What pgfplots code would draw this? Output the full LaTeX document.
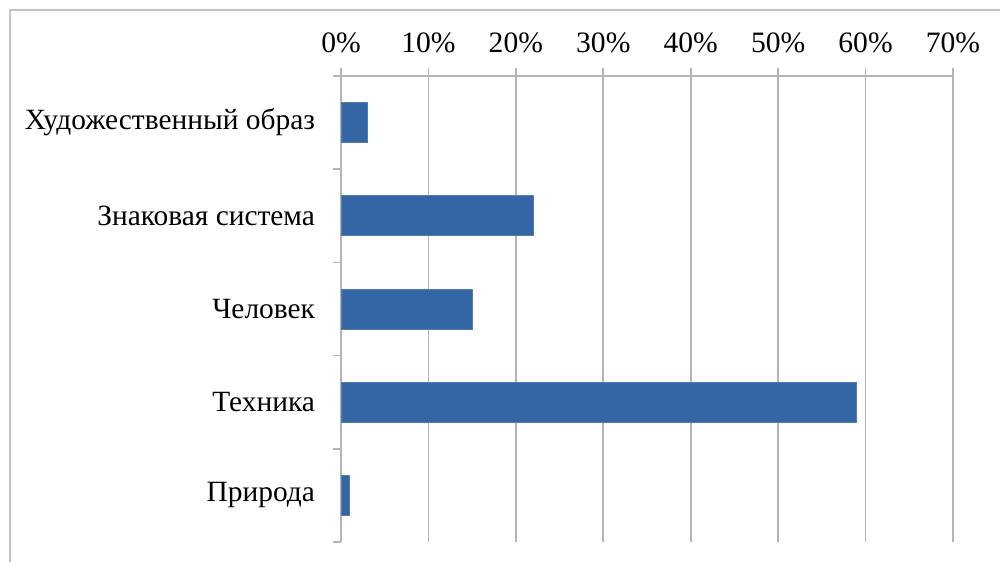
\documentclass[border=0pt]{standalone}
\usepackage{pgfplots}
\pgfplotsset{compat=1.18}
\usepackage{fontspec}
\setmainfont{Liberation Serif}
\definecolor{barblue}{RGB}{52,101,165}
\definecolor{gridgray}{RGB}{180,180,180}
\definecolor{framegray}{RGB}{195,195,195}
\begin{document}
\begin{tikzpicture}[x=1pt,y=1pt]
\path[use as bounding box] (0,0) rectangle (500,281);
\draw[framegray, line width=0.8pt] (5,0) -- (5,276) -- (500,276);
\begin{axis}[
  at={(170.5pt,10pt)}, anchor=south west,
  scale only axis, width=306pt, height=233pt,
  xbar, bar width=20pt, bar shift=0pt,
  xmin=0, xmax=70, ymin=-0.5, ymax=4.5,
  axis x line*=top, axis y line*=left,
  axis line style={gridgray, line width=0.8pt},
  xtick={0,10,...,70},
  xticklabel={\pgfmathprintnumber{\tick}\%},
  /pgf/number format/assume math mode=true,
  xmajorgrids, major grid style={gridgray, line width=0.8pt},
  tick style={gridgray, line width=0.8pt},
  tick align=outside, major tick length=4pt,
  xticklabel style={font=\fontsize{14.8}{17}\selectfont, yshift=4pt},
  ytick={-0.5,0.5,1.5,2.5,3.5,4.5},
  yticklabels={},
  extra y ticks={0,1,2,3,4},
  extra y tick labels={Природа,Техника,Человек,Знаковая система,Художественный образ},
  extra y tick style={major tick length=0pt, grid=none,
    yticklabel style={font=\fontsize{14.7}{17}\selectfont, xshift=-9.5pt}},
  clip=false,
]
\addplot[fill=barblue, draw=barblue!85!white] coordinates {(1,0) (59,1) (15,2) (22,3) (3,4)};
\end{axis}
\end{tikzpicture}
\end{document}
